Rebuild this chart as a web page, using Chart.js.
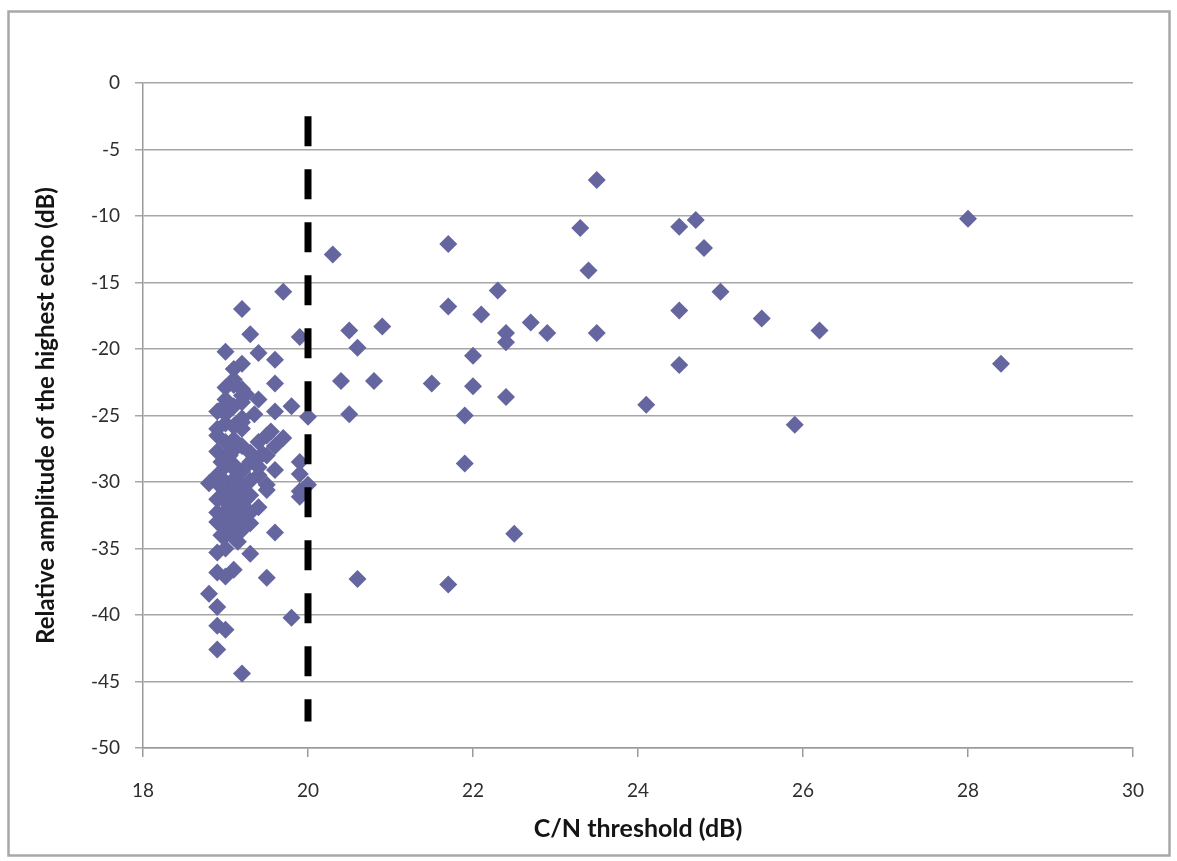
<!DOCTYPE html>
<html>
<head>
<meta charset="utf-8">
<script src="https://cdn.jsdelivr.net/npm/chart.js@4.4.1/dist/chart.umd.min.js"></script>
<style>
  html, body { margin: 0; padding: 0; background: #fff; }
  #wrap { position: relative; width: 1177px; height: 861px; }
</style>
</head>
<body>
<div id="wrap"><canvas id="c" width="1177" height="861"></canvas></div>
<script>
// C/N threshold (dB) values
const cnThreshold = [
  // cluster near 19 dB
  19.7, 19.2, 19.3, 19.9, 19.0, 19.4, 19.6, 19.2, 19.1, 19.1,
  19.6, 19.0, 19.2, 19.2, 19.4, 19.8, 19.6, 18.9, 20.0, 19.2,
  19.0, 19.1, 19.2, 18.9, 19.7, 19.4, 19.6, 19.5, 18.9, 19.0,
  19.1, 19.2, 19.3, 19.5, 18.9, 19.0, 19.9, 19.6, 19.9, 19.1,
  19.2, 19.3, 18.9, 19.0, 19.1, 19.4, 19.5, 18.8, 19.0, 19.1,
  19.2, 19.9, 20.0, 19.5, 19.9, 18.9, 19.0, 19.1, 19.2, 19.3,
  18.9, 19.0, 19.1, 19.2, 19.3, 19.4, 18.9, 19.0, 19.1, 19.3,
  19.6, 19.0, 19.1, 18.9, 19.3, 19.0, 19.1, 18.9, 19.0, 19.5,
  18.8, 18.9, 19.8, 18.9, 19.0, 18.9, 19.2, 19.0, 19.1, 19.2,
  19.0, 19.1, 18.95, 19.05, 19.15, 19.25, 19.0, 19.1, 19.2, 18.95,
  19.05, 19.15, 19.35, 19.45, 19.55, 19.3, 19.4, 19.25, 19.35, 19.15,
  19.05, 19.1, 19.0, 19.15, 19.05, 19.1, 18.95, 19.2, 19.0, 19.1, 18.95,
  // points right of the threshold
  20.3, 21.7, 21.7, 22.3, 22.1, 22.7, 22.9, 22.4, 22.4, 20.5,
  20.9, 20.6, 22.0, 20.4, 20.8, 21.5, 22.0, 22.4, 20.5, 21.9,
  21.9, 22.5, 20.6, 21.7, 23.3, 23.5, 23.4, 23.5, 24.1, 24.5,
  24.7, 24.8, 24.5, 25.0, 24.5, 25.5, 26.2, 25.9, 28.0, 28.4
];
// Relative amplitude of the highest echo (dB)
const echoAmplitude = [
  -15.7, -17.0, -18.9, -19.1, -20.2, -20.3, -20.8, -21.1, -21.5, -22.3,
  -22.6, -22.9, -23.0, -23.5, -23.8, -24.3, -24.7, -24.7, -25.1, -25.2,
  -25.6, -24.3, -24.0, -26.0, -26.7, -27.0, -27.3, -26.5, -26.5, -27.0,
  -26.8, -26.0, -27.8, -28.0, -27.7, -28.2, -28.5, -29.1, -29.4, -28.7,
  -29.2, -28.5, -29.5, -30.0, -29.8, -29.5, -30.2, -30.1, -30.5, -30.8,
  -30.3, -30.7, -30.2, -30.6, -31.1, -31.3, -31.5, -31.8, -31.6, -31.0,
  -32.3, -32.6, -32.4, -32.9, -32.3, -31.9, -33.0, -33.4, -33.0, -33.1,
  -33.8, -34.0, -33.6, -35.3, -35.4, -35.0, -36.6, -36.8, -37.1, -37.2,
  -38.4, -39.4, -40.2, -40.8, -41.1, -42.6, -44.4, -23.8, -22.7, -25.5,
  -28.8, -27.6, -29.9, -31.9, -30.9, -31.3, -24.9, -25.8, -27.3, -30.4,
  -32.0, -33.3, -28.2, -27.9, -26.2, -29.9, -28.9, -23.4, -24.9, -34.5,
  -28.0, -29.0, -31.0, -32.2, -33.0, -34.2, -34.0, -33.6, -24.2, -25.8, -28.5,
  -12.9, -12.1, -16.8, -15.6, -17.4, -18.0, -18.8, -18.8, -19.5, -18.6,
  -18.3, -19.9, -20.5, -22.4, -22.4, -22.6, -22.8, -23.6, -24.9, -25.0,
  -28.6, -33.9, -37.3, -37.7, -10.9, -7.3, -14.1, -18.8, -24.2, -10.8,
  -10.3, -12.4, -17.1, -15.7, -21.2, -17.7, -18.6, -25.7, -10.2, -21.1
];
// Dashed threshold marker at 20 dB
const thresholdX = [20, 20];
const thresholdY = [-2.5, -48];

const xTicks = [18, 20, 22, 24, 26, 28, 30];
const yTicks = [0, -5, -10, -15, -20, -25, -30, -35, -40, -45, -50];

const points = cnThreshold.map((x, i) => ({ x: x, y: echoAmplitude[i] }));
const thresholdLine = thresholdX.map((x, i) => ({ x: x, y: thresholdY[i] }));

const framePlugin = {
  id: 'frame',
  beforeDraw(chart) {
    const ctx = chart.ctx;
    ctx.save();
    ctx.fillStyle = '#ffffff';
    ctx.fillRect(0, 0, chart.width, chart.height);
    ctx.strokeStyle = '#a8a8a8';
    ctx.lineWidth = 2.5;
    ctx.strokeRect(8.5, 11.5, 1161, 844);
    ctx.restore();
  }
};

const FONT = "Lato, 'Open Sans', 'DejaVu Sans', sans-serif";

new Chart(document.getElementById('c'), {
  type: 'scatter',
  data: {
    datasets: [
      {
        label: 'threshold',
        type: 'line',
        data: thresholdLine,
        borderColor: '#000000',
        borderWidth: 7,
        borderDash: [30, 23],
        pointRadius: 0,
        fill: false,
        order: 0
      },
      {
        label: 'echoes',
        data: points,
        pointStyle: 'rectRot',
        pointRadius: 9,
        pointHoverRadius: 9,
        backgroundColor: '#65659f',
        borderColor: '#65659f',
        borderWidth: 0,
        order: 1
      }
    ]
  },
  options: {
    responsive: false,
    animation: false,
    layout: { padding: { top: 83, right: 44, left: 0, bottom: 0 } },
    plugins: {
      legend: { display: false },
      tooltip: { enabled: false }
    },
    scales: {
      x: {
        type: 'linear',
        min: 18, max: 30,
        afterFit(s) { s.height = 113; },
        afterBuildTicks(s) { s.ticks = xTicks.map(v => ({ value: v })); },
        grid: { drawOnChartArea: false, drawTicks: true, tickLength: 9, color: '#9a9a9a', lineWidth: 1.5 },
        border: { color: '#9a9a9a', width: 1.5 },
        ticks: { color: '#2e2e2e', padding: 22, font: { family: FONT, size: 19 } },
        title: {
          display: true,
          text: 'C/N threshold (dB)',
          color: '#141414',
          font: { family: FONT, size: 25, weight: 'bold' },
          padding: { top: 0, bottom: 17 }
        }
      },
      y: {
        type: 'linear',
        min: -50, max: 0,
        afterFit(s) { s.width = 143; },
        afterBuildTicks(s) { s.ticks = yTicks.map(v => ({ value: v })); },
        grid: { drawTicks: true, tickLength: 8, color: '#a6a6a6', lineWidth: 1.5 },
        border: { color: '#9a9a9a', width: 1.5 },
        ticks: { color: '#2e2e2e', padding: 15, font: { family: FONT, size: 19 } },
        title: {
          display: true,
          text: 'Relative amplitude of the highest echo (dB)',
          color: '#141414',
          font: { family: FONT, size: 24, weight: 'bold' },
          padding: { top: 32, bottom: 0 }
        }
      }
    }
  },
  plugins: [framePlugin]
});
</script>
</body>
</html>
